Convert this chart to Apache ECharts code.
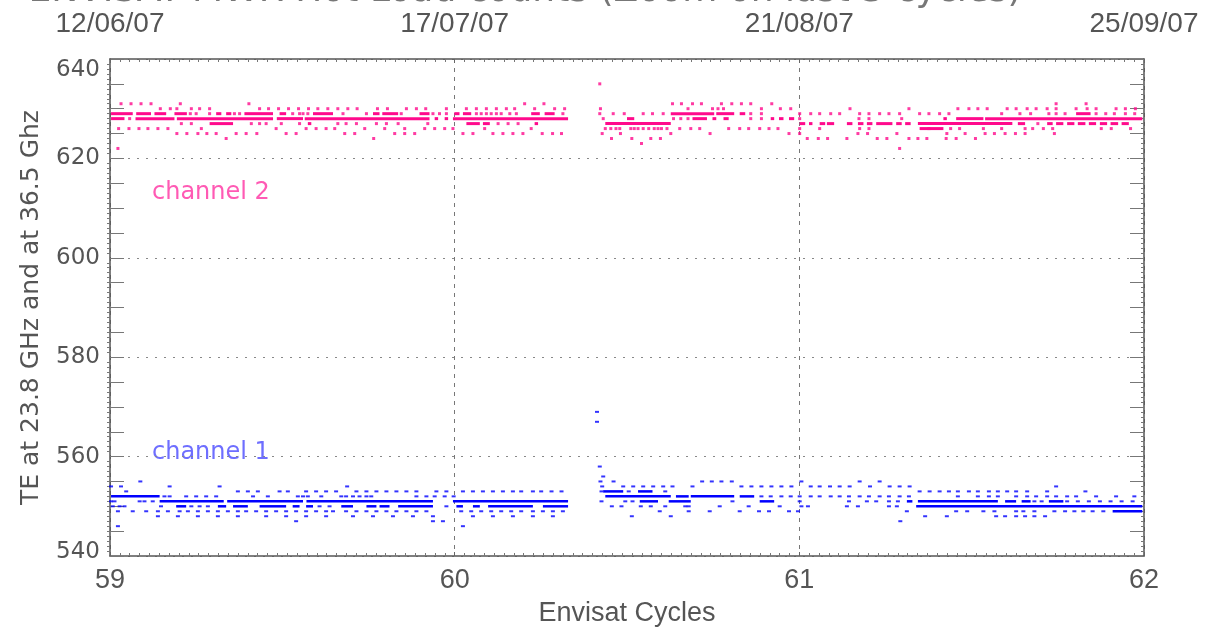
<!DOCTYPE html>
<html>
<head>
<meta charset="utf-8">
<style type="text/css">
html, body {margin: 0; padding: 0; background: #fff;}
#chart {width: 1222px; height: 632px;}
</style>
</head>
<body>
<div id="chart"></div>
<script src="https://cdn.jsdelivr.net/npm/echarts@6/dist/echarts.min.js"></script>
<script type="text/javascript">
// axis ticks / labels
var cycleTicks = [59, 60, 61, 62];
var dateLabels = ['12/06/07', '17/07/07', '21/08/07', '25/09/07'];

// channel 2 (36.5 GHz) : isolated measurements, grouped by value [value, [cycles...]]
var ch2Dots = [
    [635, [60.421]],
    [631, [59.032, 59.061, 59.090, 59.119, 59.204, 59.403, 60.203, 60.259, 60.632, 60.658, 60.690, 60.716, 60.774, 60.804, 60.832, 60.859, 60.920, 61.745, 61.832]],
    [630, [59.146, 59.175, 59.194, 59.236, 59.260, 59.289, 59.434, 59.460, 59.489, 59.518, 59.547, 59.576, 59.603, 59.632, 59.661, 59.690, 59.717, 59.776, 59.805, 59.860, 59.889, 59.916, 59.976, 60.034, 60.063, 60.092, 60.121, 60.150, 60.174, 60.232, 60.290, 60.319,
           60.423, 60.677, 60.748, 60.764, 60.780, 60.890, 60.945, 60.975, 61.147, 61.318, 61.460, 61.492, 61.518, 61.545, 61.603, 61.629, 61.661, 61.687, 61.719, 61.745, 61.803, 61.835, 61.861, 61.919, 61.946, 61.975]],
    [629, [59.233, 59.250, 59.289, 59.361, 59.376, 59.530, 59.550, 59.560, 59.574, 59.676, 59.744, 59.845, 59.937, 59.956, 59.976, 60.063, 60.077, 60.092, 60.106, 60.121, 60.135, 60.160, 60.179, 60.314,
           60.421, 60.460, 60.492, 60.547, 60.574, 60.605, 60.859, 60.890, 61.001, 61.033, 61.059, 61.091, 61.117, 61.175, 61.202, 61.233, 61.260, 61.291, 61.349, 61.376, 61.407, 61.434, 61.587, 61.640, 61.671, 61.724, 61.745, 61.771, 61.861, 61.889, 61.914, 61.946, 61.973]],
    [628, [59.057, 60.431, 60.635, 60.656, 60.677, 60.859, 60.890, 61.001, 61.173, 61.202, 61.297]],
    [627, [59.207, 59.236, 59.410, 59.434, 59.453, 59.497, 59.550, 59.661, 59.685, 59.715, 59.773, 59.802, 59.836, 59.922, 60.126, 60.155, 60.184, 61.692]],
    [626, [59.025, 59.055, 59.084, 59.110, 59.139, 59.168, 59.265, 59.482, 59.569, 59.598, 59.627, 59.652, 59.739, 59.797, 59.855, 59.913, 59.942, 59.971, 59.995, 60.087, 60.222,
           60.437, 60.453, 60.468, 60.479, 60.511, 60.521, 60.532, 60.547, 60.563, 60.579, 60.590, 60.600, 60.616, 60.653, 60.685, 60.711, 60.795, 60.827, 60.853, 60.885, 60.912, 60.938, 61.001, 61.059, 61.175, 61.202, 61.376, 61.439, 61.465, 61.534, 61.587, 61.655, 61.677, 61.708, 61.735, 61.876, 61.905, 61.961]],
    [625, [59.194, 59.223, 59.255, 59.281, 59.308, 59.366, 59.395, 59.426, 59.511, 59.540, 59.681, 59.710, 59.826, 59.855, 59.884, 60.024, 60.053, 60.111, 60.140, 60.169, 60.198, 60.254, 60.284, 60.310,
           60.428, 60.481, 60.627, 60.741, 60.970, 61.001, 61.170, 61.198, 61.283, 61.428, 61.481, 61.539, 61.566, 61.597, 61.627, 61.655, 61.740]],
    [624, [59.337, 59.765, 60.455, 60.514, 60.569, 60.597, 61.023, 61.055, 61.082, 61.138, 61.226, 61.254, 61.318, 61.344, 61.370, 61.426, 61.455, 61.511]],
    [623, [60.542]],
    [622, [59.023, 61.291]]
];

// channel 2 : dense runs of identical values [value, [[from, to], ...]]
var ch2Runs = [
    [629, [[59.003, 59.066], [59.076, 59.119], [59.129, 59.163], [59.187, 59.223], [59.308, 59.323], [59.337, 59.352], [59.390, 59.473], [59.492, 59.511], [59.589, 59.647], [59.763, 59.782], [59.790, 59.836], [59.898, 59.927], [59.999, 60.014], [60.024, 60.048], [60.222, 60.247], [60.261, 60.290],
           [60.627, 60.753], [60.759, 60.811], [60.827, 60.843], [61.803, 61.845]]],
    [628, [[59.003, 59.042], [59.074, 59.187], [59.194, 59.473], [59.484, 59.560], [59.565, 59.927], [59.942, 59.952], [59.971, 59.981], [59.995, 60.329],
           [60.500, 60.521], [60.690, 60.732], [60.748, 60.759], [60.780, 60.795], [60.917, 60.927], [60.941, 60.954], [60.970, 60.985], [61.418, 61.428], [61.455, 61.534], [61.539, 61.995]]],
    [627, [[59.289, 59.357], [59.574, 59.584], [60.034, 60.073], [60.082, 60.102], [60.232, 60.242],
           [60.437, 60.627], [61.001, 61.017], [61.028, 61.038], [61.059, 61.075], [61.080, 61.101], [61.138, 61.154], [61.170, 61.186], [61.196, 61.212], [61.223, 61.270], [61.281, 61.297], [61.307, 61.323], [61.344, 61.618], [61.634, 61.655],
           [61.719, 61.735], [61.745, 61.766], [61.777, 61.798], [61.808, 61.830], [61.840, 61.861], [61.872, 61.893], [61.903, 61.925], [61.935, 61.956]]],
    [626, [[61.349, 61.418]]]
];

// channel 1 (23.8 GHz)
var ch1Dots = [
    [569, [60.413]],
    [567, [60.413]],
    [558, [60.421]],
    [556, [60.431]],
    [555, [59.088, 60.423, 60.461, 60.718, 60.746, 60.774, 60.804, 61.006, 61.175, 61.233]],
    [554, [59.003, 59.032, 59.173, 59.318, 59.688, 60.428, 60.489, 60.518, 60.547, 60.576, 60.605, 60.632, 60.690, 60.832, 60.861, 60.890, 60.919, 60.948, 60.977, 61.033, 61.059, 61.089, 61.117, 61.146, 61.205, 61.262, 61.291, 61.320, 61.745]],
    [553, [59.047, 59.371, 59.400, 59.429, 59.492, 59.516, 59.569, 59.598, 59.627, 59.656, 59.715, 59.744, 59.773, 59.802, 59.831, 59.860, 59.889, 59.947, 59.976, 60.024, 60.053, 60.082, 60.111, 60.140, 60.169, 60.193, 60.227, 60.251, 60.281, 60.310,
           60.426, 60.505, 60.611, 61.349, 61.378, 61.407, 61.434, 61.460, 61.492, 61.518, 61.550, 61.576, 61.603, 61.629, 61.661, 61.719, 61.830]],
    [552, [59.158, 59.173, 59.221, 59.250, 59.279, 59.308, 59.415, 59.458, 59.545, 59.560, 59.574, 59.613, 59.671, 59.685, 59.705, 59.724, 59.744, 59.758, 59.889, 59.918, 59.942, 59.971, 59.997,
           60.890, 60.917, 60.948, 60.975, 61.001, 61.033, 61.059, 61.091, 61.117, 61.144, 61.175, 61.202, 61.233, 61.260, 61.291, 61.318, 61.460, 61.518, 61.550, 61.576, 61.629, 61.661, 61.687, 61.719, 61.745, 61.777, 61.803, 61.861, 61.919, 61.972]],
    [551, [59.003, 59.013, 59.086, 59.100, 59.124, 60.426, 60.495, 60.516, 60.806, 61.001, 61.144, 61.196, 61.223, 61.260, 61.286, 61.682, 61.703, 61.777, 61.808, 61.840, 61.872, 61.903, 61.935, 61.967]],
    [550, [59.008, 59.028, 59.042, 59.148, 59.236, 59.260, 59.284, 59.608, 59.637, 59.976, 60.456, 60.484, 60.540, 60.569, 60.611, 60.669, 60.679, 60.769, 60.853, 60.943, 61.006, 61.025, 61.138, 61.170, 61.260, 61.283]],
    [549, [59.023, 59.066, 59.105, 59.139, 59.168, 59.202, 59.226, 59.255, 59.284, 59.313, 59.342, 59.371, 59.395, 59.424, 59.453, 59.482, 59.511, 59.540, 59.569, 59.598, 59.627, 59.647, 59.685, 59.715, 59.744, 59.773, 59.802, 59.831, 59.860, 59.889, 59.918, 60.019, 60.048, 60.077, 60.106, 60.135, 60.164, 60.193, 60.227, 60.256, 60.285, 60.314,
           60.595, 60.679, 60.740, 60.827, 60.883, 60.912, 60.970, 60.996, 61.312, 61.455, 61.487, 61.534, 61.566, 61.629, 61.650, 61.682, 61.740, 61.771, 61.798, 61.824, 61.851, 61.882]],
    [548, [59.139, 59.197, 59.255, 59.313, 59.371, 59.453, 59.511, 59.569, 59.627, 59.705, 59.763, 59.821, 59.879, 59.937, 60.053, 60.111, 60.169, 60.227, 60.285, 60.514, 60.627, 61.365, 61.428, 61.571, 61.597, 61.629, 61.655, 61.682, 61.713]],
    [547, [59.540, 59.937, 59.966, 61.293]],
    [546, [59.023, 60.024]]
];

var ch1Runs = [
    [553, [[60.431, 60.489], [60.532, 60.574]]],
    [552, [[59.003, 59.144], [60.437, 60.627], [60.642, 60.679], [60.685, 60.811], [60.827, 60.869]]],
    [551, [[59.144, 59.330], [59.340, 59.560], [59.570, 59.937], [59.995, 60.329], [60.537, 60.590], [60.621, 60.685], [60.885, 60.927], [61.312, 61.328], [61.344, 61.576], [61.597, 61.629], [61.645, 61.671], [61.724, 61.766]]],
    [550, [[59.192, 59.221], [59.313, 59.337], [59.357, 59.400], [59.434, 59.511], [59.530, 59.550], [59.569, 59.589], [59.671, 59.705], [59.744, 59.773], [59.782, 59.811], [59.836, 59.937], [60.005, 60.024], [60.053, 60.073], [60.097, 60.227], [60.256, 60.329], [61.339, 61.995]]],
    [549, [[61.909, 61.995]]]
];

var pink = '#ff0a8c';
var blue = '#0000ff';
var labelFont = "'Liberation Sans', Arial, sans-serif";
var roundFont = "'DejaVu Sans', sans-serif";

function flatDots(groups) {
    var out = [];
    groups.forEach(function (g) {
        g[1].forEach(function (x) { out.push([x, g[0]]); });
    });
    return out;
}
function flatRuns(groups) {
    var out = [];
    groups.forEach(function (g) {
        g[1].forEach(function (r) { out.push([r[0], r[1], g[0]]); });
    });
    return out;
}
function runRenderer(color, h) {
    return function (params, api) {
        var a = api.coord([api.value(0), api.value(2)]);
        var b = api.coord([api.value(1), api.value(2)]);
        return {
            type: 'rect',
            shape: {x: a[0], y: a[1] - h / 2, width: Math.max(b[0] - a[0], 2), height: h},
            style: {fill: color}
        };
    };
}

var chart = echarts.init(document.getElementById('chart'));
var xBase = {
    type: 'value', min: 59, max: 62, interval: 1,
    axisLine: {lineStyle: {color: '#555', width: 1.5}},
    axisTick: {inside: true, length: 4, lineStyle: {color: '#666'}},
    minorTick: {show: true, splitNumber: 35, length: 3, lineStyle: {color: '#777'}}
};
var option = {
    animation: false,
    backgroundColor: '#fff',
    grid: {left: 110, right: 78, top: 59, bottom: 73},
    graphic: [
        {type: 'text', x: 525, y: -8, style: {text: 'ENVISAT MWR Hot Load counts (Zoom on last 3 cycles)', fontSize: 36, fontFamily: roundFont, fill: '#777', align: 'center', verticalAlign: 'middle'}},
        {type: 'text', x: 152, y: 193, style: {text: 'channel 2', fontSize: 24, fontFamily: roundFont, fill: '#ff5ab4', verticalAlign: 'middle'}},
        {type: 'text', x: 152, y: 453, style: {text: 'channel 1', fontSize: 24, fontFamily: roundFont, fill: '#6e6eff', verticalAlign: 'middle'}}
    ],
    xAxis: [
        echarts.util.merge({
            position: 'bottom',
            name: 'Envisat Cycles', nameLocation: 'middle', nameGap: 44,
            nameTextStyle: {fontSize: 27, fontFamily: labelFont, color: '#555'},
            axisLabel: {fontSize: 27, fontFamily: labelFont, color: '#555', margin: 11},
            splitLine: {show: true, lineStyle: {color: '#777', type: [4, 5]}}
        }, xBase, true),
        echarts.util.merge({
            position: 'top',
            axisLabel: {fontSize: 28, fontFamily: labelFont, color: '#555', margin: 21,
                formatter: function (v) { var i = cycleTicks.indexOf(v); return i < 0 ? '' : dateLabels[i]; }},
            splitLine: {show: false}
        }, xBase, true)
    ],
    yAxis: [
        {
            type: 'value', position: 'left', min: 540, max: 640, interval: 20,
            name: 'TE at 23.8 GHz and at 36.5 Ghz', nameLocation: 'middle', nameGap: 66, nameRotate: 90,
            nameTextStyle: {fontSize: 25, fontFamily: roundFont, color: '#555'},
            axisLine: {show: true, lineStyle: {color: '#555', width: 1.5}},
            axisTick: {show: false},
            minorTick: {show: true, splitNumber: 20, length: 3, lineStyle: {color: '#777'}},
            axisLabel: {fontSize: 23, fontFamily: roundFont, color: '#555', margin: 10,
                // end labels are pulled inside the frame, as in the original plot
                formatter: function (v) {
                    if (v === 640) return '{hi|' + v + '}';
                    if (v === 540) return '{lo|' + v + '}';
                    return String(v);
                },
                rich: {
                    hi: {fontSize: 23, fontFamily: roundFont, color: '#555', padding: [22, 0, 0, 0]},
                    lo: {fontSize: 23, fontFamily: roundFont, color: '#555', padding: [0, 0, 8, 0]}
                }},
            splitLine: {show: true, lineStyle: {color: '#888', type: [2, 7]}}
        },
        {
            type: 'value', position: 'left', min: 540, max: 640, interval: 5,
            axisLine: {show: false}, axisLabel: {show: false}, splitLine: {show: false},
            axisTick: {show: true, inside: true, length: 14, lineStyle: {color: '#777'}}
        },
        {
            type: 'value', position: 'right', min: 540, max: 640, interval: 5,
            axisLine: {show: true, lineStyle: {color: '#555', width: 1.5}},
            axisLabel: {show: false}, splitLine: {show: false},
            axisTick: {show: true, inside: true, length: 14, lineStyle: {color: '#777'}},
            minorTick: {show: true, splitNumber: 5, length: 3, lineStyle: {color: '#777'}}
        }
    ],
    series: [
        {type: 'custom', name: 'channel 2 runs', renderItem: runRenderer(pink, 3), encode: {x: [0, 1], y: 2}, data: flatRuns(ch2Runs), clip: true},
        {type: 'scatter', name: 'channel 2', symbol: 'rect', symbolSize: [3, 3], itemStyle: {color: pink}, data: flatDots(ch2Dots)},
        {type: 'custom', name: 'channel 1 runs', renderItem: runRenderer(blue, 2.5), encode: {x: [0, 1], y: 2}, data: flatRuns(ch1Runs), clip: true},
        {type: 'scatter', name: 'channel 1', symbol: 'rect', symbolSize: [4, 2], itemStyle: {color: blue}, data: flatDots(ch1Dots)}
    ]
};
chart.setOption(option);
</script>
</body>
</html>
